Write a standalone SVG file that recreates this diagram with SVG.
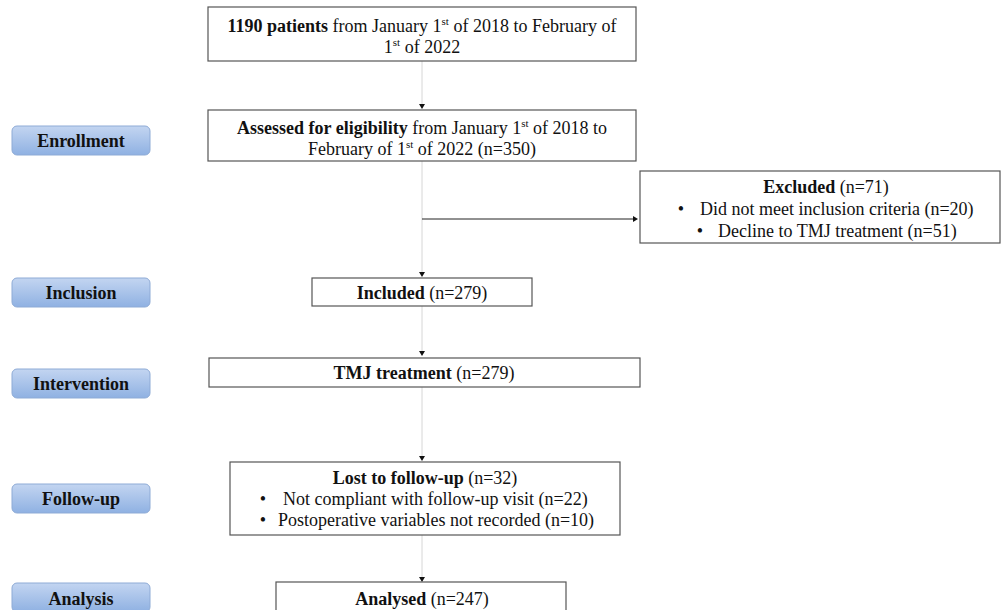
<svg xmlns="http://www.w3.org/2000/svg" width="1002" height="610" viewBox="0 0 1002 610">
<style>
.box{fill:#fff;stroke:#555;stroke-width:1.2}
.t{font-family:"Liberation Serif","Times New Roman",serif;font-size:18px;fill:#111;text-anchor:middle}
.s{text-anchor:start}
.b{font-weight:bold}
.sup{font-size:11px}
.btn{fill:url(#g);stroke:#8eabd6;stroke-width:1}
.bt{font-family:"Liberation Serif","Times New Roman",serif;font-size:18px;font-weight:bold;fill:#111;text-anchor:middle}
.vl{stroke:#d6d6d6;stroke-width:1;fill:none}
.ar{fill:#111}
</style>
<defs>
<linearGradient id="g" x1="0" y1="0" x2="0" y2="1">
<stop offset="0" stop-color="#c3d5f1"/>
<stop offset="1" stop-color="#8fb1e2"/>
</linearGradient>
</defs>
<rect width="1002" height="610" fill="#fff"/>

<g id="stage-enrollment"><rect class="btn" x="12" y="126" width="138" height="29" rx="5"/><text class="bt" x="81" y="147">Enrollment</text></g>
<g id="stage-inclusion"><rect class="btn" x="12" y="278" width="138" height="29" rx="5"/><text class="bt" x="81" y="299">Inclusion</text></g>
<g id="stage-intervention"><rect class="btn" x="12" y="369" width="138" height="29" rx="5"/><text class="bt" x="81" y="390">Intervention</text></g>
<g id="stage-followup"><rect class="btn" x="12" y="484" width="138" height="29" rx="5"/><text class="bt" x="81" y="505">Follow-up</text></g>
<g id="stage-analysis"><rect class="btn" x="12" y="583" width="138" height="29" rx="5"/><text class="bt" x="81" y="605">Analysis</text></g>

<g id="connectors">
<line class="vl" x1="422" y1="61" x2="422" y2="104"/>
<line class="vl" x1="422" y1="161" x2="422" y2="272"/>
<line class="vl" x1="422" y1="306" x2="422" y2="351"/>
<line class="vl" x1="422" y1="387" x2="422" y2="456"/>
<line class="vl" x1="422" y1="535" x2="422" y2="577"/>
<line x1="422" y1="219" x2="634" y2="219" stroke="#222" stroke-width="1"/>
<path class="ar" d="M419,104 L425,104 L422,109 Z"/>
<path class="ar" d="M419,272 L425,272 L422,277 Z"/>
<path class="ar" d="M419,351 L425,351 L422,356 Z"/>
<path class="ar" d="M419,456 L425,456 L422,461 Z"/>
<path class="ar" d="M419,577 L425,577 L422,582 Z"/>
<path class="ar" d="M633,216 L638,219 L633,222 Z"/>
</g>

<g id="node-patients">
<rect class="box" x="208" y="7" width="428" height="54"/>
<text class="t" x="422" y="32"><tspan class="b">1190 patients</tspan> from January 1<tspan class="sup" dy="-7">st</tspan><tspan dy="7"> of 2018 to February of</tspan></text>
<text class="t" x="422" y="53">1<tspan class="sup" dy="-7">st</tspan><tspan dy="7"> of 2022</tspan></text>
</g>

<g id="node-assessed">
<rect class="box" x="208" y="110" width="428" height="51"/>
<text class="t" x="422" y="134"><tspan class="b">Assessed for eligibility</tspan> from January 1<tspan class="sup" dy="-7">st</tspan><tspan dy="7"> of 2018 to</tspan></text>
<text class="t" x="422" y="155">February of 1<tspan class="sup" dy="-7">st</tspan><tspan dy="7"> of 2022 (n=350)</tspan></text>
</g>

<g id="node-excluded">
<rect class="box" x="640" y="171" width="360" height="72"/>
<text class="t" x="826" y="193"><tspan class="b">Excluded</tspan>  (n=71)</text>
<text class="t" x="681" y="215">•</text>
<text class="t s" x="700" y="215">Did not meet inclusion criteria (n=20)</text>
<text class="t" x="700" y="237">•</text>
<text class="t s" x="718" y="237">Decline to TMJ treatment (n=51)</text>
</g>

<g id="node-included">
<rect class="box" x="312" y="278" width="220" height="28"/>
<text class="t" x="422" y="299"><tspan class="b">Included</tspan> (n=279)</text>
</g>

<g id="node-tmj">
<rect class="box" x="209" y="358" width="431" height="29"/>
<text class="t" x="424" y="379"><tspan class="b">TMJ treatment</tspan> (n=279)</text>
</g>

<g id="node-lost">
<rect class="box" x="230" y="462" width="390" height="73"/>
<text class="t" x="425" y="484"><tspan class="b">Lost to follow-up</tspan> (n=32)</text>
<text class="t" x="263" y="505">•</text>
<text class="t s" x="283" y="505">Not compliant with follow-up visit (n=22)</text>
<text class="t" x="263" y="526">•</text>
<text class="t s" x="278" y="526">Postoperative variables not recorded (n=10)</text>
</g>

<g id="node-analysed">
<rect class="box" x="276" y="582" width="290" height="40"/>
<text class="t" x="422" y="605"><tspan class="b">Analysed</tspan> (n=247)</text>
</g>
</svg>
